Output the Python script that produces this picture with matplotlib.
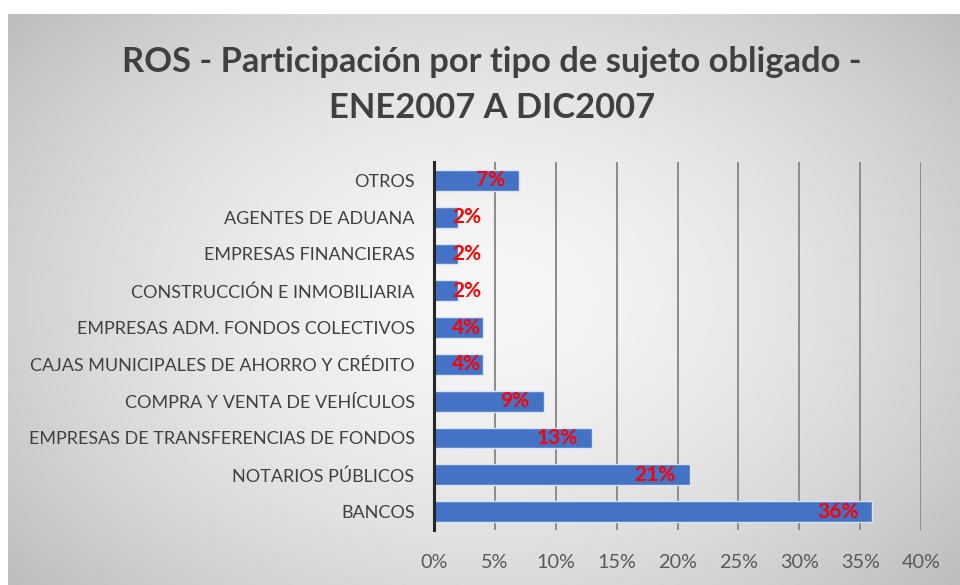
import numpy as np
import matplotlib
matplotlib.use("Agg")
import matplotlib.pyplot as plt
from matplotlib.ticker import FuncFormatter
import matplotlib.transforms as mtransforms

plt.rcParams["font.family"] = ["Lato", "DejaVu Sans"]

# categories listed bottom -> top as they appear in the chart
categories = [
    "BANCOS",
    "NOTARIOS PÚBLICOS",
    "EMPRESAS DE TRANSFERENCIAS DE FONDOS",
    "COMPRA Y VENTA DE VEHÍCULOS",
    "CAJAS MUNICIPALES DE AHORRO Y CRÉDITO",
    "EMPRESAS ADM. FONDOS COLECTIVOS",
    "CONSTRUCCIÓN E INMOBILIARIA",
    "EMPRESAS FINANCIERAS",
    "AGENTES DE ADUANA",
    "OTROS",
]
shares = [0.36, 0.21, 0.13, 0.09, 0.04, 0.04, 0.02, 0.02, 0.02, 0.07]
x_ticks = [0.0, 0.05, 0.10, 0.15, 0.20, 0.25, 0.30, 0.35, 0.40]

title = "ROS - Participación por tipo de sujeto obligado -\nENE2007 A DIC2007"

fig = plt.figure(figsize=(9.6, 5.85), dpi=100)

# gray radial-ish gradient panel, white strip on top and left
bg = fig.add_axes([8 / 960, 0, 1 - 8 / 960, 1 - 14 / 585])
yy, xx = np.mgrid[-1:1:300j, -1:1:500j]
r = np.sqrt((xx * 0.95) ** 2 + (yy * 0.8) ** 2)
shade = 0.965 - 0.16 * np.clip(r, 0, 1.3) ** 1.6
bg.imshow(shade, cmap="gray", vmin=0, vmax=1, aspect="auto",
          extent=[0, 1, 0, 1], interpolation="bicubic")
bg.set_axis_off()

ax = fig.add_axes([434 / 960, 55 / 585, (921 - 434) / 960, (530 - 162) / 585])
ax.patch.set_alpha(0)

y = np.arange(len(categories))
ax.barh(y, shares, height=0.57, color="#4472C4", edgecolor="#dbe4f5",
        linewidth=1.0, zorder=3)

ax.set_xlim(0, 0.4)
ax.set_ylim(-0.5, len(categories) - 0.5)
ax.set_xticks(x_ticks)
ax.xaxis.set_major_formatter(FuncFormatter(lambda v, _: f"{v * 100:.0f}%"))
ax.set_yticks(y)
ax.set_yticklabels(categories)
ax.tick_params(axis="y", length=0, pad=14, labelsize=13.0, labelcolor="#404040")
ax.tick_params(axis="x", length=0, pad=17, labelsize=14.3, labelcolor="#595959")
ax.grid(axis="x", color="#8c8c8c", lw=1.4, zorder=1)
for s in ["top", "right", "bottom"]:
    ax.spines[s].set_visible(False)
ax.spines["left"].set_color("#262626")
ax.spines["left"].set_linewidth(2.2)
ax.spines["left"].set_zorder(4)

# data labels, "inside end" style
for yi, v in zip(y, shares):
    txt = f"{v * 100:.0f}%"
    if v >= 0.05:
        off = mtransforms.offset_copy(ax.transData, fig=fig, x=-14, y=0, units="dots")
        ax.text(v, yi, txt, transform=off, ha="right", va="center",
                color="#ff0000", fontsize=15, fontweight="bold", zorder=5)
    else:
        off = mtransforms.offset_copy(ax.transData, fig=fig, x=18, y=0, units="dots")
        ax.text(0, yi, txt, transform=off, ha="left", va="center",
                color="#ff0000", fontsize=15, fontweight="bold", zorder=5)

fig.text(492 / 960, 1 - 85 / 585, title, ha="center", va="center", fontsize=24.8,
         fontweight="bold", color="#404040", linespacing=1.5)

fig.savefig("out.png", dpi=100)
